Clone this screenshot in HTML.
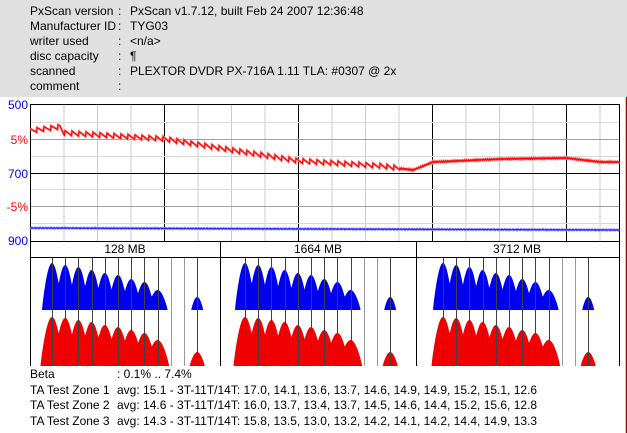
<!DOCTYPE html>
<html><head><meta charset="utf-8"><style>
body{margin:0;width:627px;height:433px;background:#fff;overflow:hidden;font-family:"Liberation Sans","Noto Sans CJK JP",sans-serif;font-size:12px;color:#000;position:relative}
#hdr{position:absolute;left:0;top:0;width:627px;height:97px;background:#e0e0e0}
.t{position:absolute;white-space:pre;line-height:15px}
svg{position:absolute;left:0;top:0}
</style></head><body>
<div id="hdr"></div>
<div class="t" style="left:30px;top:4px">PxScan version
Manufacturer ID
writer used
disc capacity
scanned
comment</div>
<div class="t" style="left:118px;top:4px">:
:
:
:
:
:</div>
<div class="t" style="left:130px;top:4px">PxScan v1.7.12, built Feb 24 2007 12:36:48
TYG03
&lt;n/a&gt;
¶
PLEXTOR DVDR PX-716A 1.11 TLA: #0307 @ 2x
</div>
<div class="t" style="left:30px;top:367px;line-height:15.7px">Beta
TA Test Zone 1
TA Test Zone 2
TA Test Zone 3</div>
<div class="t" style="left:117px;top:367px;line-height:15.7px">: 0.1% .. 7.4%
avg: 15.1 - 3T-11T/14T: 17.0, 14.1, 13.6, 13.7, 14.6, 14.9, 14.9, 15.2, 15.1, 12.6
avg: 14.6 - 3T-11T/14T: 16.0, 13.7, 13.4, 13.7, 14.5, 14.6, 14.4, 15.2, 15.6, 12.8
avg: 14.3 - 3T-11T/14T: 15.8, 13.5, 13.0, 13.2, 14.2, 14.1, 14.2, 14.4, 14.9, 13.3</div>
<svg id="s" width="627" height="433" xmlns="http://www.w3.org/2000/svg" font-family="Liberation Sans, sans-serif" font-size="12"></svg>
<script>
var s=document.getElementById('s'),h='';
function L(x1,y1,x2,y2,c,w){h+='<line x1="'+x1+'" y1="'+y1+'" x2="'+x2+'" y2="'+y2+'" stroke="'+c+'" stroke-width="'+(w||1)+'"/>';}
for(var i=0;i<18;i++){var x=30+i*33.5+0.5;if(x<619)L(x,104,x,241,i%4==0?'#000':'#c8c8d8');}
[122,156,189,223].forEach(function(y){L(30,y+.5,619,y+.5,'#d8d8d8');});
[139,206].forEach(function(y){L(30,y+.5,619,y+.5,'#a0a0a0');});
L(30,173.5,619,173.5,'#000');L(30,104.5,619,104.5,'#000');L(30.5,104,30.5,366,'#000');L(619.5,104,619.5,241,'#000');
L(626.5,97,626.5,433,'#a00000',1.5);
h+='<text x="28" y="109" fill="#00f" text-anchor="end">500</text><text x="28" y="144" fill="#f00" text-anchor="end">5%</text><text x="28" y="178" fill="#00f" text-anchor="end">700</text><text x="28" y="211" fill="#f00" text-anchor="end">-5%</text><text x="28" y="245" fill="#00f" text-anchor="end">900</text>';
var pts=[[30,131],[60,127],[64,133],[164,139],[230,150],[298,161],[380,166],[413,170],[433,162],[500,159],[567,158],[600,162],[619,162]];
function base(x){for(var k=0;k<pts.length-1;k++){if(x<=pts[k+1][0]){var a=pts[k],b=pts[k+1];return a[1]+(b[1]-a[1])*(x-a[0])/(b[0]-a[0]);}}return 162;}
var d='';for(var x=30;x<=619;x+=0.5){var y=base(x);if(x<400){var p=((x-30)%7)/7;y+=(p*5-2.5);}else y+=Math.sin(x*3)*0.7;d+=(x==30?'M':'L')+x+' '+y.toFixed(1);}
h+='<path d="'+d+'" fill="none" stroke="#f99" stroke-width="2.5"/><path d="'+d+'" fill="none" stroke="#f00" stroke-width="1.2"/>';
var db='';for(var x=30;x<=619;x+=1){var y=228+ (x-30)/589*2 + Math.sin(x*2.3)*0.5;db+=(x==30?'M':'L')+x+' '+y.toFixed(1);}
h+='<path d="'+db+'" fill="none" stroke="#aaf" stroke-width="2.5"/><path d="'+db+'" fill="none" stroke="#22f" stroke-width="1.2"/>';
L(30,241.5,619,241.5,'#000');L(30,257.5,619,257.5,'#000');L(220.5,241,220.5,366,'#000');L(416.5,241,416.5,366,'#000');L(619.5,241,619.5,366,'#000');
h+='<text x="125" y="253" text-anchor="middle">128 MB</text><text x="318" y="253" text-anchor="middle">1664 MB</text><text x="517" y="253" text-anchor="middle">3712 MB</text>';
var bp=[263,265,267,270,273,275,279,282,290],rp=[317,318,320,322,325,327,330,333,340];
function shape(x0,peaks,bot,sp,small,sw,wid){
 var d='M'+(x0-wid)+' '+bot;
 for(var x=x0-wid;x<=x0+8*sp+wid;x+=0.5){var m=0;for(var i=0;i<9;i++){var cx=x0+i*sp,u=(x-cx)/wid;if(Math.abs(u)<1){var v=(bot-peaks[i])*Math.pow(Math.cos(u*Math.PI/2),0.85);if(v>m)m=v;}}d+=' L'+x+' '+(bot-m).toFixed(1);}
 d+=' L'+(x0+8*sp+wid)+' '+bot+'Z';
 var cx=x0+11*sp;d+='M'+(cx-sw)+' '+bot;for(var x=cx-sw;x<=cx+sw;x+=0.5){d+=' L'+x+' '+(bot-(bot-small)*Math.pow(Math.cos((x-cx)/sw*Math.PI/2),0.85)).toFixed(1);}d+='Z';
 return d;}
[[30,22],[220,25],[416,27]].forEach(function(pn){
 var x0=pn[0]+pn[1],sp=13.2;
 h+='<path d="'+shape(x0,bp,310,sp,297,6,10)+'" fill="#0000f0"/><path d="'+shape(x0,rp,366,sp,352,7.5,11.5)+'" fill="#f00000"/>';
 for(var i=0;i<12;i++){var x=Math.round(x0+i*sp)+0.5;L(x,258,x,366,i<9||i==11?'#404040':'#999');}
});
s.innerHTML=h;
</script>
</body></html>
